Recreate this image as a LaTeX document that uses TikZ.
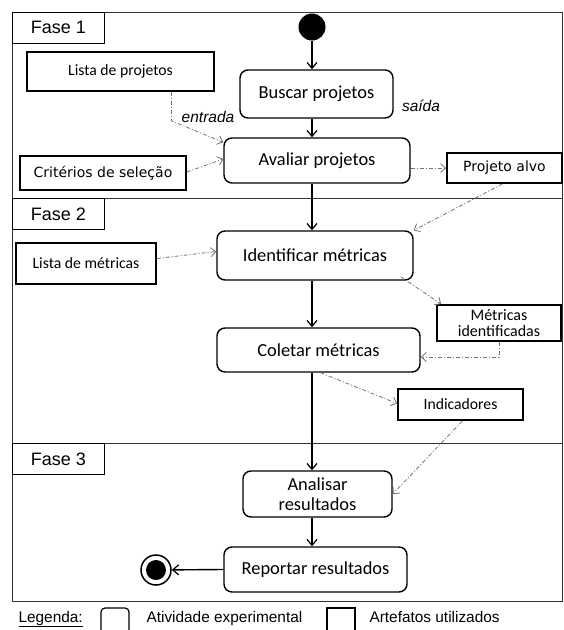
\documentclass[tikz,border=0pt]{standalone}
\usepackage{fontspec}
\setmainfont{Carlito}
\newfontfamily\arialfont{Liberation Sans}
\newfontfamily\widefont{DejaVu Sans}
\usetikzlibrary{arrows.meta}

\begin{document}
\begin{tikzpicture}[x=1pt,y=-1pt,
  activity/.style={draw,rounded corners=8pt,line width=1.4pt,align=center,inner sep=0pt,
    font=\fontsize{18.4}{20}\selectfont},
  artifact/.style={draw,line width=1.7pt,align=center,inner sep=0pt,
    font=\fontsize{15.7}{17}\selectfont},
  wideartifact/.style={artifact,font=\widefont\fontsize{14}{16}\selectfont},
  phase/.style={draw,line width=0.7pt,anchor=north west,minimum width=92pt,minimum height=31pt,
    font=\arialfont\fontsize{18}{20}\selectfont},
  flow/.style={line width=1.4pt,-{Straight Barb[length=6pt,width=10pt,line width=1.2pt]}},
  usage/.style={black!55,line width=0.8pt,dash pattern=on 4pt off 2pt on 1pt off 2pt,
    -{Straight Barb[length=5pt,width=9pt,line width=0.8pt]}},
  note/.style={font=\arialfont\itshape\fontsize{15.5}{17}\selectfont},
  legend/.style={font=\arialfont\fontsize{15.4}{17}\selectfont,anchor=base west}]

\clip (0,0) rectangle (563,630);
\fill[white] (0,0) rectangle (563,630);

% lanes
\draw[line width=0.7pt,black!80] (12,12) rectangle (562,601);
\draw[line width=0.7pt,black!80] (12,198) -- (562,198);
\draw[line width=0.7pt,black!80] (12,443) -- (562,443);
\node[phase] (fase1) at (12,12) {Fase 1};
\node[phase] (fase2) at (12,198) {Fase 2};
\node[phase] (fase3) at (12,443) {Fase 3};

% activities
\node[circle,fill,minimum size=27pt,inner sep=0pt] (start) at (312,27) {};
\node[activity,minimum width=153pt,minimum height=48pt] (buscar) at (316.5,94) {Buscar projetos};
\node[activity,minimum width=186pt,minimum height=45pt] (avaliar) at (317,160.5) {Avaliar projetos};
\node[activity,minimum width=196pt,minimum height=49pt] (identificar) at (315,255.5) {Identificar métricas};
\node[activity,minimum width=203pt,minimum height=44pt] (coletar) at (318.5,350) {Coletar métricas};
\node[activity,minimum width=149pt,minimum height=46pt] (analisar) at (317.5,494) {Analisar\\resultados};
\node[activity,minimum width=183pt,minimum height=45pt] (reportar) at (315.5,569.5) {Reportar resultados};
\node[circle,draw,line width=1.5pt,minimum size=30pt,inner sep=0pt] (fim) at (156,570) {};
\fill (fim.center) circle [radius=10pt];

% artifacts
\node[artifact,minimum width=187pt,minimum height=39pt] (listaproj) at (120.5,71.5) {Lista de projetos};
\node[wideartifact,minimum width=166pt,minimum height=34pt] (criterios) at (103,173) {Critérios de seleção};
\node[wideartifact,minimum width=115pt,minimum height=30pt] (alvo) at (504.5,168) {Projeto alvo};
\node[artifact,minimum width=140pt,minimum height=41pt] (listamet) at (86,263.5) {Lista de métricas};
\node[artifact,minimum width=124pt,minimum height=36pt,font=\fontsize{16}{16}\selectfont] (metid) at (499,323) {Métricas\\identificadas};
\node[artifact,minimum width=125pt,minimum height=31pt] (indicadores) at (460.5,404.5) {Indicadores};

\node[note] (entrada) at (208,117) {entrada};
\node[note] (saida) at (421,106) {saída};

% control flow
\draw[flow] (start) -- (buscar.north -| start);
\draw[flow] (buscar.south -| start) -- (avaliar.north -| start);
\draw[flow] (avaliar.south -| start) -- (identificar.north -| start);
\draw[flow] (identificar.south -| start) -- (coletar.north -| start);
\draw[flow] (coletar.south -| start) -- (analisar.north -| start);
\draw[flow] (analisar.south -| start) -- (reportar.north -| start);
\draw[flow] (reportar.west) -- (fim);

% object flow
\draw[usage] ([xshift=51pt]listaproj.south) -- ++(0,29) -- ([yshift=-5pt]avaliar.north west);
\draw[usage] ([yshift=1pt]criterios.east) -- ([yshift=1.5pt]avaliar.west);
\draw[usage] (avaliar.east |- alvo.west) -- (alvo.west);
\draw[usage] ([xshift=-2pt]alvo.south) -- (identificar.north east);
\draw[usage] ([yshift=5pt]listamet.east) -- ([yshift=4pt]identificar.west);
\draw[usage] ([xshift=-13pt,yshift=4pt]identificar.south east) -- ([xshift=5pt]metid.north west);
\draw[usage] (metid.south) |- ([yshift=-7pt]coletar.east);
\draw[usage] ([xshift=2pt]coletar.south) -- ([yshift=1pt]indicadores.west);
\draw[usage] ([xshift=2pt]indicadores.south) -- (analisar.east);

% legend
\node[legend] (legenda) at (15,622) {\underline{Legenda:}};
\node[draw,rounded corners=4pt,line width=1.2pt,minimum width=28pt,minimum height=26pt] (legact) at (115,621) {};
\node[legend] (legacttxt) at (143,622) {Atividade experimental};
\node[draw,line width=1.5pt,minimum width=28pt,minimum height=26pt] (legart) at (341,621) {};
\node[legend] (legarttxt) at (366,622) {Artefatos utilizados};
\end{tikzpicture}
\end{document}
